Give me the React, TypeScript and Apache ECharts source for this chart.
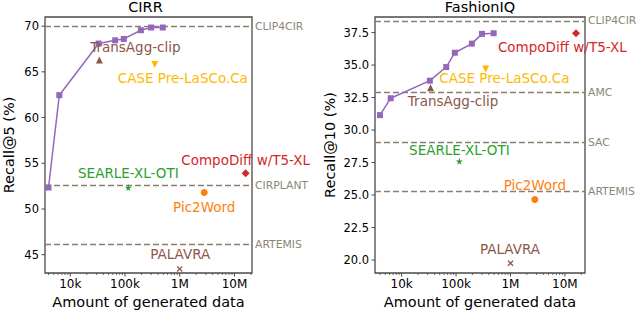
import React, { useEffect, useRef } from 'react';
import * as echarts from 'echarts';

const FONT = '"DejaVu Sans", "Liberation Sans", sans-serif';

// CompoDiff scaling curve: amount of generated data vs recall
const scaleCounts = [4000, 6300, 33000, 66000, 95000, 195000, 300000, 490000];
const cirrScaling = [52.35, 62.45, 68.1, 68.45, 68.6, 69.55, 69.85, 69.85];
const fiqScaling = [31.15, 32.45, 33.8, 34.85, 35.95, 36.65, 37.4, 37.45];

// Other methods
const methods = ['TransAgg-clip', 'CASE Pre-LaSCo.Ca', 'CompoDiff w/T5-XL', 'SEARLE-XL-OTI', 'Pic2Word', 'PALAVRA'];
const methodCounts = [34000, 350000, 16000000, 115000, 2800000, 1000000];
const cirrMethods = [66.3, 65.8, 53.9, 52.35, 51.8, 43.45];
const fiqMethods = [33.25, 34.7, 37.45, 27.6, 24.65, 19.75];

// Baselines (dashed lines)
const cirrBaselineNames = ['CLIP4CIR', 'CIRPLANT', 'ARTEMIS'];
const cirrBaselines = [70.0, 52.6, 46.1];
const fiqBaselineNames = ['CLIP4CIR', 'AMC', 'SAC', 'ARTEMIS'];
const fiqBaselines = [38.4, 32.9, 29.05, 25.3];

// Ticks
const xTickValues = [1e4, 1e5, 1e6, 1e7];
const xTickLabels = ['10k', '100k', '1M', '10M'];
const cirrYTicks = [45, 50, 55, 60, 65, 70];
const cirrYTickLabels = ['45', '50', '55', '60', '65', '70'];
const fiqYTicks = [20, 22.5, 25, 27.5, 30, 32.5, 35, 37.5];
const fiqYTickLabels = ['20.0', '22.5', '25.0', '27.5', '30.0', '32.5', '35.0', '37.5'];

const SPINE = '#4a4a4a';
const BASE_COLOR = '#8a7f6d';
const BASE_LABEL = '#8c8678';

const STAR = 'path://M50,0 L61,35 L98,35 L68,57 L79,91 L50,70 L21,91 L32,57 L2,35 L39,35 Z';
const CROSS = 'path://M0,1.5 L1.5,0 L5,3.5 L8.5,0 L10,1.5 L6.5,5 L10,8.5 L8.5,10 L5,6.5 L1.5,10 L0,8.5 L3.5,5 Z';

const methodStyles = [
  { symbol: 'triangle', size: 7, color: '#8c564b', rotate: 0 },
  { symbol: 'triangle', size: 7, color: '#ffb900', rotate: 180 },
  { symbol: 'diamond', size: 8, color: '#d62728', rotate: 0 },
  { symbol: STAR, size: 7, color: '#2ca02c', rotate: 0 },
  { symbol: 'circle', size: 7, color: '#ff7f0e', rotate: 0 },
  { symbol: CROSS, size: 6, color: '#8c564b', rotate: 0 },
];

const cirrOffsets = [[36, -12.5], [28, 13.5], [0, -13.7], [0, -14.7], [0, 14], [0.5, -14.4]];
const fiqOffsets = [[22.5, 13.4], [18.7, 9.3], [-13.7, 13.4], [0, -11], [0, -14.4], [-0.5, -14]];

function minorTicks(min: number, max: number) {
  const out: number[] = [];
  for (let e = 3; e <= 7; e++) {
    for (let m = 2; m <= 9; m++) {
      const v = m * Math.pow(10, e);
      if (v > min && v < max) out.push(v);
    }
  }
  return out;
}

function buildPanel(idx: number, cfg: any) {
  const series: any[] = [];
  const { xMin, xMax, yMin, scaling, methodVals, offsets, baseNames, baseVals, yTicks, yTickLabels } = cfg;

  series.push({
    type: 'line',
    xAxisIndex: idx,
    yAxisIndex: idx,
    data: scaleCounts.map((c, i) => [c, scaling[i]]),
    symbol: 'rect',
    symbolSize: 6,
    lineStyle: { color: '#9467bd', width: 1.5 },
    itemStyle: { color: '#9467bd' },
    z: 5,
    markLine: {
      silent: true,
      symbol: ['none', 'none'],
      lineStyle: { color: BASE_COLOR, type: [6, 3], width: 1.3 },
      label: {
        show: true,
        position: 'end',
        distance: 3,
        formatter: '{b}',
        color: BASE_LABEL,
        fontSize: 10.8,
        fontFamily: FONT,
      },
      data: baseNames.map((n: string, i: number) => ({ name: n, yAxis: baseVals[i] })),
      z: 2,
    },
  });

  methods.forEach((m, i) => {
    const st = methodStyles[i];
    series.push({
      type: 'scatter',
      xAxisIndex: idx,
      yAxisIndex: idx,
      symbol: st.symbol,
      symbolSize: st.size,
      symbolRotate: st.rotate,
      itemStyle: { color: st.color, opacity: 1 },
      z: 6,
      label: {
        show: true,
        position: 'inside',
        offset: offsets[i],
        formatter: '{b}',
        color: st.color,
        opacity: 1,
        textBorderWidth: 0,
        textBorderColor: 'transparent',
        fontSize: 13.5,
        fontFamily: FONT,
        align: 'center',
        verticalAlign: 'middle',
      },
      data: [{ name: m, value: [methodCounts[i], methodVals[i]] }],
    });
  });

  // major x ticks with labels
  series.push({
    type: 'custom',
    xAxisIndex: idx,
    yAxisIndex: idx,
    silent: true,
    z: 10,
    data: xTickValues.map((v) => [v, yMin]),
    renderItem: (params: any, api: any) => {
      const cs = params.coordSys;
      const x = api.coord([api.value(0), yMin])[0];
      const b = cs.y + cs.height;
      return {
        type: 'group',
        children: [
          { type: 'line', shape: { x1: x, y1: b, x2: x, y2: b + 3.5 }, style: { stroke: SPINE, lineWidth: 1 } },
          {
            type: 'text',
            x,
            y: b + 5,
            style: {
              text: xTickLabels[params.dataIndex],
              fill: '#000',
              fontSize: 12,
              fontFamily: FONT,
              align: 'center',
              verticalAlign: 'top',
            },
          },
        ],
      };
    },
  });

  // minor x ticks
  series.push({
    type: 'custom',
    xAxisIndex: idx,
    yAxisIndex: idx,
    silent: true,
    z: 10,
    data: minorTicks(xMin, xMax).map((v) => [v, yMin]),
    renderItem: (params: any, api: any) => {
      const cs = params.coordSys;
      const x = api.coord([api.value(0), yMin])[0];
      const b = cs.y + cs.height;
      return { type: 'line', shape: { x1: x, y1: b, x2: x, y2: b + 2 }, style: { stroke: SPINE, lineWidth: 0.8 } };
    },
  });

  // y ticks with labels
  series.push({
    type: 'custom',
    xAxisIndex: idx,
    yAxisIndex: idx,
    silent: true,
    z: 10,
    data: yTicks.map((v: number) => [xMin, v]),
    renderItem: (params: any, api: any) => {
      const cs = params.coordSys;
      const y = api.coord([xMin, api.value(1)])[1];
      const l = cs.x;
      return {
        type: 'group',
        children: [
          { type: 'line', shape: { x1: l - 3.5, y1: y, x2: l, y2: y }, style: { stroke: SPINE, lineWidth: 1 } },
          {
            type: 'text',
            x: l - 6,
            y,
            style: {
              text: yTickLabels[params.dataIndex],
              fill: '#000',
              fontSize: 11.5,
              fontFamily: FONT,
              align: 'right',
              verticalAlign: 'middle',
            },
          },
        ],
      };
    },
  });

  return series;
}

const panels = [
  {
    title: 'CIRR',
    yName: 'Recall@5 (%)',
    nameGap: 29,
    left: 39,
    width: 213,
    xMin: 3450,
    xMax: 2.09e7,
    yMin: 43,
    yMax: 71,
    scaling: cirrScaling,
    methodVals: cirrMethods,
    offsets: cirrOffsets,
    baseNames: cirrBaselineNames,
    baseVals: cirrBaselines,
    yTicks: cirrYTicks,
    yTickLabels: cirrYTickLabels,
  },
  {
    title: 'FashionIQ',
    yName: 'Recall@10 (%)',
    nameGap: 38,
    left: 375,
    width: 210,
    xMin: 3240,
    xMax: 2.34e7,
    yMin: 19.0,
    yMax: 38.7,
    scaling: fiqScaling,
    methodVals: fiqMethods,
    offsets: fiqOffsets,
    baseNames: fiqBaselineNames,
    baseVals: fiqBaselines,
    yTicks: fiqYTicks,
    yTickLabels: fiqYTickLabels,
  },
];

function buildOption() {
  const hidden = {
    axisLine: { show: false },
    axisTick: { show: false },
    axisLabel: { show: false },
    splitLine: { show: false },
  };
  return {
    animation: false,
    backgroundColor: '#fff',
    textStyle: { fontFamily: FONT },
    title: panels.map((p) => ({
      text: p.title,
      left: p.left + p.width / 2,
      top: -1,
      padding: 0,
      textAlign: 'center',
      textStyle: { fontSize: 14.5, fontWeight: 'normal', color: '#000', fontFamily: FONT },
    })),
    grid: panels.map((p) => ({
      left: p.left,
      top: 17,
      width: p.width,
      height: 260,
      show: true,
      borderColor: SPINE,
      borderWidth: 1.3,
      backgroundColor: 'transparent',
    })),
    xAxis: panels.map((p, i) => ({
      type: 'log',
      logBase: 10,
      gridIndex: i,
      min: p.xMin,
      max: p.xMax,
      name: 'Amount of generated data',
      nameLocation: 'middle',
      nameGap: 21,
      nameTextStyle: { fontSize: 14.5, color: '#000', fontFamily: FONT },
      ...hidden,
    })),
    yAxis: panels.map((p, i) => ({
      type: 'value',
      gridIndex: i,
      min: p.yMin,
      max: p.yMax,
      name: p.yName,
      nameLocation: 'middle',
      nameRotate: 90,
      nameGap: p.nameGap,
      nameTextStyle: { fontSize: 14.5, color: '#000', fontFamily: FONT },
      ...hidden,
    })),
    series: panels.flatMap((p, i) => buildPanel(i, p)),
  };
}

export default function App() {
  const ref = useRef<HTMLDivElement>(null);
  useEffect(() => {
    document.body.style.margin = '0';
    const chart = echarts.init(ref.current!, null, { renderer: 'svg' });
    chart.setOption(buildOption() as any);
    return () => chart.dispose();
  }, []);
  return <div ref={ref} style={{ width: 640, height: 314 }} />;
}
